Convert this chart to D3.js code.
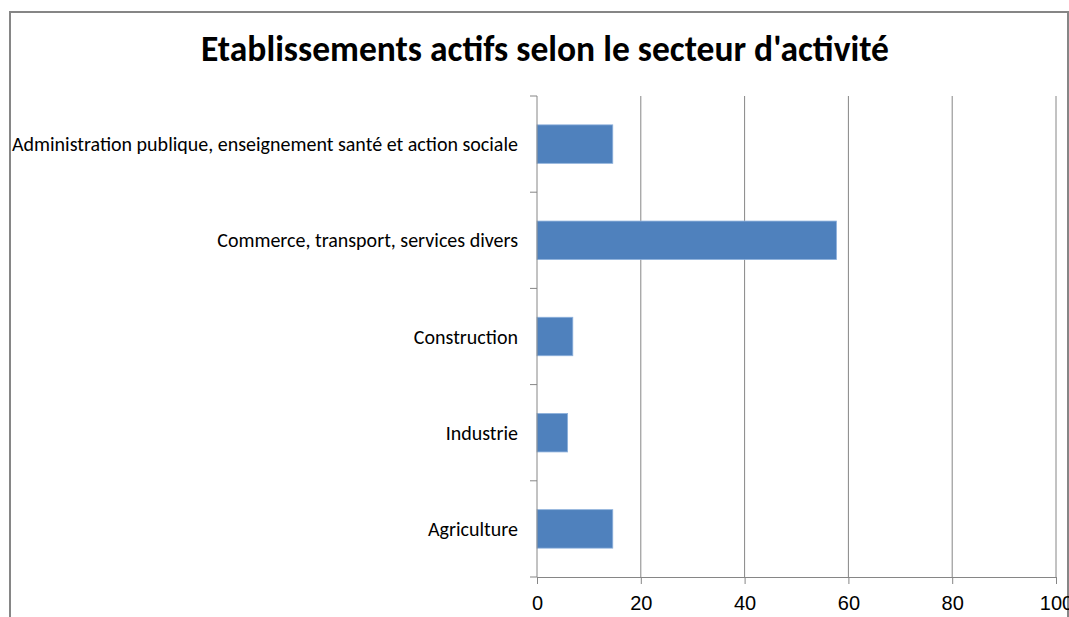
<!DOCTYPE html>
<html>
<head>
<meta charset="utf-8">
<script src="https://cdn.jsdelivr.net/npm/d3@7"></script>
<style>
  body { margin: 0; background: #fff; }
  svg { display: block; font-family: Carlito, Calibri, "Liberation Sans", Arial, sans-serif; }
</style>
</head>
<body>
<svg id="chart"></svg>
<script>
// data
const categories = [
  "Administration publique, enseignement santé et action sociale",
  "Commerce, transport, services divers",
  "Construction",
  "Industrie",
  "Agriculture"
];
const values = [14.6, 57.7, 6.9, 5.9, 14.6];
const xTicks = [0, 20, 40, 60, 80, 100];

const width = 1069;
const height = 617;
const padding = { top: 96, right: 13, bottom: 40, left: 537 };

const svg = d3.select("#chart")
  .attr("width", width)
  .attr("height", height);

// outer frame of the chart area
svg.append("rect")
  .attr("x", 10)
  .attr("y", 12)
  .attr("width", 1058)
  .attr("height", 700)
  .attr("fill", "none")
  .attr("stroke", "#868686")
  .attr("stroke-width", 2);

svg.append("text")
  .attr("x", 545)
  .attr("y", 61)
  .attr("text-anchor", "middle")
  .attr("font-size", "35.5px")
  .attr("font-weight", "bold")
  .attr("fill", "#000")
  .text("Etablissements actifs selon le secteur d'activité");

const xScale = d3.scaleLinear()
  .domain([0, 100])
  .range([padding.left, width - padding.right]);

const yScale = d3.scaleBand()
  .domain(categories)
  .range([padding.top, height - padding.bottom])
  .paddingInner(0.6)
  .paddingOuter(0.3);

const plotBottom = height - padding.bottom;

// vertical gridlines
svg.append("g")
  .selectAll("line")
  .data(xTicks.slice(1))
  .join("line")
    .attr("x1", d => xScale(d))
    .attr("x2", d => xScale(d))
    .attr("y1", padding.top)
    .attr("y2", plotBottom)
    .attr("stroke", "#868686")
    .attr("stroke-width", 1);

// bars
svg.append("g")
  .selectAll("rect")
  .data(values)
  .join("rect")
    .attr("x", xScale(0))
    .attr("y", (d, i) => yScale(categories[i]))
    .attr("width", d => xScale(d) - xScale(0))
    .attr("height", yScale.bandwidth())
    .attr("fill", "#4f81bd")
    .attr("stroke", "#8eb1dc")
    .attr("stroke-width", 0.8);

// y axis with ticks between categories
const yBounds = d3.range(categories.length + 1).map(i => padding.top + i * (plotBottom - padding.top) / categories.length);

const yAxis = svg.append("g").classed("y-axis", true);
yAxis.append("line")
  .attr("x1", xScale(0)).attr("x2", xScale(0))
  .attr("y1", padding.top).attr("y2", plotBottom)
  .attr("stroke", "#868686");
yAxis.selectAll(".tick")
  .data(yBounds)
  .join("line")
    .attr("x1", xScale(0) - 7).attr("x2", xScale(0))
    .attr("y1", d => d).attr("y2", d => d)
    .attr("stroke", "#868686");
yAxis.selectAll("text")
  .data(categories)
  .join("text")
    .attr("x", 518)
    .attr("y", d => yScale(d) + yScale.bandwidth() / 2)
    .attr("dy", "0.35em")
    .attr("text-anchor", "end")
    .attr("font-size", "20px")
    .attr("fill", "#000")
    .text(d => d);

// x axis
const xAxis = d3.axisBottom(xScale)
  .tickValues(xTicks)
  .tickSize(7)
  .tickSizeOuter(0)
  .tickPadding(12);

svg.append("g")
  .classed("x-axis", true)
  .attr("transform", `translate(0, ${plotBottom})`)
  .call(xAxis)
  .call(g => g.select(".domain").attr("stroke", "#868686"))
  .call(g => g.selectAll(".tick line").attr("stroke", "#868686"))
  .call(g => g.selectAll(".tick text")
    .attr("font-size", "20px")
    .attr("font-family", null)
    .attr("fill", "#000"));
</script>
</body>
</html>
